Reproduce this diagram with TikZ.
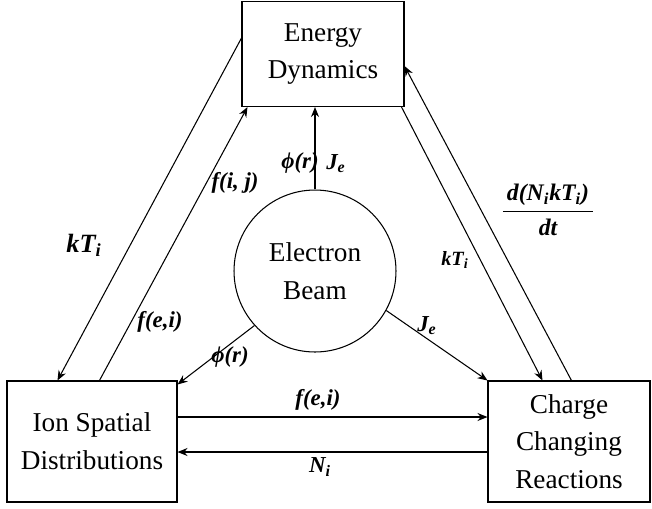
\documentclass[tikz,border=0pt]{standalone}
\usepackage{fontspec}
\setmainfont{Liberation Serif}
\usetikzlibrary{calc, arrows.meta}

\begin{document}
\begin{tikzpicture}[x=0.02cm, y=-0.02cm, >={Stealth[length=2mm, width=1.6mm]}, line width=0.6pt,
		font=\fontsize{15.5}{21.5}\selectfont,
		box/.style={draw, align=center, inner sep=0pt},
		lab/.style={font=\fontsize{13}{15}\selectfont\bfseries\itshape, inner sep=1pt}]
		\useasboundingbox (0,0) rectangle (652,508);
		
		% 三个方框和中间的电子束
		\node[box, minimum width=3.24cm, minimum height=2.1cm] (energy) at (323,54) {Energy\\Dynamics};
		\node[box, minimum width=3.4cm, minimum height=2.42cm] (ion) at (92,441.5) {Ion Spatial\\Distributions};
		\node[box, minimum width=3.24cm, minimum height=2.42cm] (charge) at (569,441.5) {Charge\\Changing\\Reactions};
		\node[circle, draw, minimum size=3.24cm, align=center, inner sep=0pt] (beam) at (315,271) {Electron\\Beam};
		
		% 电子束指向三个方框
		\draw[->] (beam.north) -- (beam.north |- energy.south);
		\draw[->] (beam.222) -- ([yshift=-0.08cm]ion.north east);
		\draw[->] (beam.-29) -- (charge.north west);
		
		% 方框之间的连线
		\draw[->] ([yshift=0.32cm]energy.west) -- ([xshift=1.02cm]ion.north west);
		\draw[->] ([xshift=1.86cm]ion.north west) -- ([xshift=0.12cm]energy.south west);
		\draw[->] ([xshift=-0.06cm]energy.south east) -- ([xshift=1.1cm]charge.north west);
		\draw[->] ([xshift=1.68cm]charge.north west) -- ([yshift=-0.24cm]energy.east);
		\draw[->] ([yshift=0.49cm]ion.east) -- ([yshift=0.49cm]charge.west);
		\draw[->] ([yshift=-0.21cm]charge.west) -- ([yshift=-0.21cm]ion.east);
		
		% 标注
		\node[lab] (phitop) at (300,163) {ϕ(r)};
		\node[lab] (jetop) at (336,164) {J\textsubscript{e}};
		\node[lab] (philow) at (230,357) {ϕ(r)};
		\node[lab] (jelow) at (427,326) {J\textsubscript{e}};
		\node[lab] (feibot) at (318,400) {f(e,i)};
		\node[lab] (ni) at (320,467) {N\textsubscript{i}};
		\node[lab] (feileft) at (160,322) {f(e,i)};
		\node[lab] (fij) at (235,183) {f(i, j)};
		\node[lab, font=\fontsize{15}{17}\selectfont\bfseries\itshape] (ktleft) at (84,245) {kT\textsubscript{i}};
		\node[lab, font=\fontsize{11.5}{13}\selectfont\bfseries\itshape] (ktright) at (455,260) {kT\textsubscript{i}};
		\node[lab, font=\fontsize{13.5}{15}\selectfont\bfseries\itshape] (dndt) at (548,210)
		{$\displaystyle\frac{\hbox{\,d(N\textsubscript{i}kT\textsubscript{i})\,}}{\hbox{dt}}$};
	\end{tikzpicture}
\end{document}
